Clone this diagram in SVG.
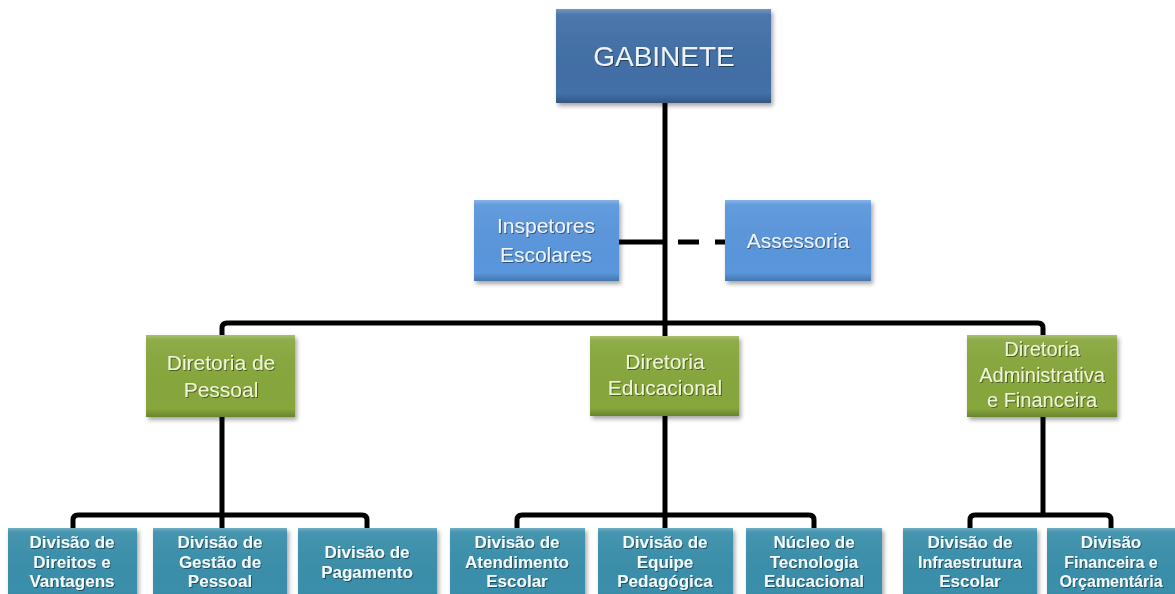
<svg xmlns="http://www.w3.org/2000/svg" width="1175" height="594" viewBox="0 0 1175 594">
<defs>
<style>
.conn{fill:none;stroke:#000;stroke-width:5;stroke-linejoin:round}
.dash{stroke-dasharray:21 16}
.txt{font-family:"Liberation Sans",Arial,sans-serif;text-anchor:middle;filter:url(#ts)}
.gab{fill:#426fa7}
.blue{fill:#5a96dc}
.green{fill:#87a73c}
.teal{fill:#3a8fab}
.bev{fill:url(#bevel)}
.t1{font-size:28px;fill:#eef3f8}
.t2{font-size:21px;fill:#eef4fb}
.t3{font-size:21px;fill:#eef5d6}
.t4{font-size:17px;font-weight:bold;fill:#f4fafc}
</style>
<linearGradient id="bevel" x1="0" y1="0" x2="0" y2="1">
<stop offset="0" stop-color="#fff" stop-opacity="0.28"/>
<stop offset="0.06" stop-color="#fff" stop-opacity="0.06"/>
<stop offset="0.9" stop-color="#000" stop-opacity="0"/>
<stop offset="1" stop-color="#000" stop-opacity="0.22"/>
</linearGradient>
<filter id="sh" x="-10%" y="-10%" width="125%" height="130%">
<feDropShadow dx="2" dy="3" stdDeviation="2" flood-color="#000" flood-opacity="0.35"/>
</filter>
<filter id="ts" x="-5%" y="-20%" width="115%" height="150%">
<feDropShadow dx="1" dy="1" stdDeviation="0.7" flood-color="#000" flood-opacity="0.45"/>
</filter>
</defs>
<rect width="1175" height="594" fill="#fff"/>
<g id="connectors">
<path class="conn" d="M665,103 V323"/>
<path class="conn" d="M619,242 H665"/>
<path class="conn dash" d="M678,242 H725"/>
<path class="conn" d="M222,336 V328 Q222,323 227,323 H1038 Q1043,323 1043,328 V336"/>
<path class="conn" d="M665,323 V336"/>
<path class="conn" d="M222,417 V528"/>
<path class="conn" d="M73,529 V520 Q73,515 78,515 H362 Q367,515 367,520 V529"/>
<path class="conn" d="M665,416 V529"/>
<path class="conn" d="M517,529 V520 Q517,515 522,515 H809 Q814,515 814,520 V529"/>
<path class="conn" d="M1043,417 V515"/>
<path class="conn" d="M970,529 V520 Q970,515 975,515 H1106 Q1111,515 1111,520 V529"/>
</g>
<g id="gabinete" filter="url(#sh)">
<rect class="gab" x="556" y="9" width="215" height="94"/>
<rect class="bev" x="556" y="9" width="215" height="94"/>
<text class="txt t1" x="664" y="66">GABINETE</text>
</g>
<g id="inspetores" filter="url(#sh)">
<rect class="blue" x="474" y="200" width="145" height="81"/>
<rect class="bev" x="474" y="200" width="145" height="81"/>
<text class="txt t2" x="546" y="233">Inspetores</text>
<text class="txt t2" x="546" y="262">Escolares</text>
</g>
<g id="assessoria" filter="url(#sh)">
<rect class="blue" x="725" y="200" width="146" height="81"/>
<rect class="bev" x="725" y="200" width="146" height="81"/>
<text class="txt t2" x="798" y="248">Assessoria</text>
</g>
<g id="dir-pessoal" filter="url(#sh)">
<rect class="green" x="146" y="335" width="149" height="82"/>
<rect class="bev" x="146" y="335" width="149" height="82"/>
<text class="txt t3" x="221" y="370">Diretoria de</text>
<text class="txt t3" x="221" y="397">Pessoal</text>
</g>
<g id="dir-educacional" filter="url(#sh)">
<rect class="green" x="590" y="336" width="149" height="80"/>
<rect class="bev" x="590" y="336" width="149" height="80"/>
<text class="txt t3" x="665" y="369">Diretoria</text>
<text class="txt t3" x="665" y="395">Educacional</text>
</g>
<g id="dir-administrativa" filter="url(#sh)">
<rect class="green" x="967" y="335" width="150" height="82"/>
<rect class="bev" x="967" y="335" width="150" height="82"/>
<text class="txt t3" x="1042" y="356" style="font-size:20px">Diretoria</text>
<text class="txt t3" x="1042" y="382" style="font-size:20px">Administrativa</text>
<text class="txt t3" x="1042" y="407" style="font-size:20px">e Financeira</text>
</g>
<g id="div-direitos" filter="url(#sh)">
<rect class="teal" x="8" y="528" width="129" height="72"/>
<rect class="bev" x="8" y="528" width="129" height="72"/>
<text class="txt t4" x="72" y="548">Divisão de</text>
<text class="txt t4" x="72" y="568">Direitos e</text>
<text class="txt t4" x="72" y="587">Vantagens</text>
</g>
<g id="div-gestao" filter="url(#sh)">
<rect class="teal" x="153" y="528" width="134" height="72"/>
<rect class="bev" x="153" y="528" width="134" height="72"/>
<text class="txt t4" x="220" y="548">Divisão de</text>
<text class="txt t4" x="220" y="568">Gestão de</text>
<text class="txt t4" x="220" y="587">Pessoal</text>
</g>
<g id="div-pagamento" filter="url(#sh)">
<rect class="teal" x="298" y="528" width="139" height="72"/>
<rect class="bev" x="298" y="528" width="139" height="72"/>
<text class="txt t4" x="367" y="558">Divisão de</text>
<text class="txt t4" x="367" y="578">Pagamento</text>
</g>
<g id="div-atendimento" filter="url(#sh)">
<rect class="teal" x="450" y="528" width="135" height="72"/>
<rect class="bev" x="450" y="528" width="135" height="72"/>
<text class="txt t4" x="517" y="548">Divisão de</text>
<text class="txt t4" x="517" y="568">Atendimento</text>
<text class="txt t4" x="517" y="587">Escolar</text>
</g>
<g id="div-equipe" filter="url(#sh)">
<rect class="teal" x="598" y="528" width="135" height="72"/>
<rect class="bev" x="598" y="528" width="135" height="72"/>
<text class="txt t4" x="665" y="548">Divisão de</text>
<text class="txt t4" x="665" y="568">Equipe</text>
<text class="txt t4" x="665" y="587">Pedagógica</text>
</g>
<g id="nucleo-tecnologia" filter="url(#sh)">
<rect class="teal" x="746" y="528" width="136" height="72"/>
<rect class="bev" x="746" y="528" width="136" height="72"/>
<text class="txt t4" x="814" y="548">Núcleo de</text>
<text class="txt t4" x="814" y="568">Tecnologia</text>
<text class="txt t4" x="814" y="587">Educacional</text>
</g>
<g id="div-infraestrutura" filter="url(#sh)">
<rect class="teal" x="903" y="528" width="134" height="72"/>
<rect class="bev" x="903" y="528" width="134" height="72"/>
<text class="txt t4" x="970" y="548">Divisão de</text>
<text class="txt t4" x="970" y="568" style="font-size:16px">Infraestrutura</text>
<text class="txt t4" x="970" y="587">Escolar</text>
</g>
<g id="div-financeira" filter="url(#sh)">
<rect class="teal" x="1047" y="528" width="132" height="72"/>
<rect class="bev" x="1047" y="528" width="132" height="72"/>
<text class="txt t4" x="1111" y="548">Divisão</text>
<text class="txt t4" x="1111" y="568" style="font-size:16px">Financeira e</text>
<text class="txt t4" x="1111" y="587" style="font-size:16px">Orçamentária</text>
</g>
</svg>
